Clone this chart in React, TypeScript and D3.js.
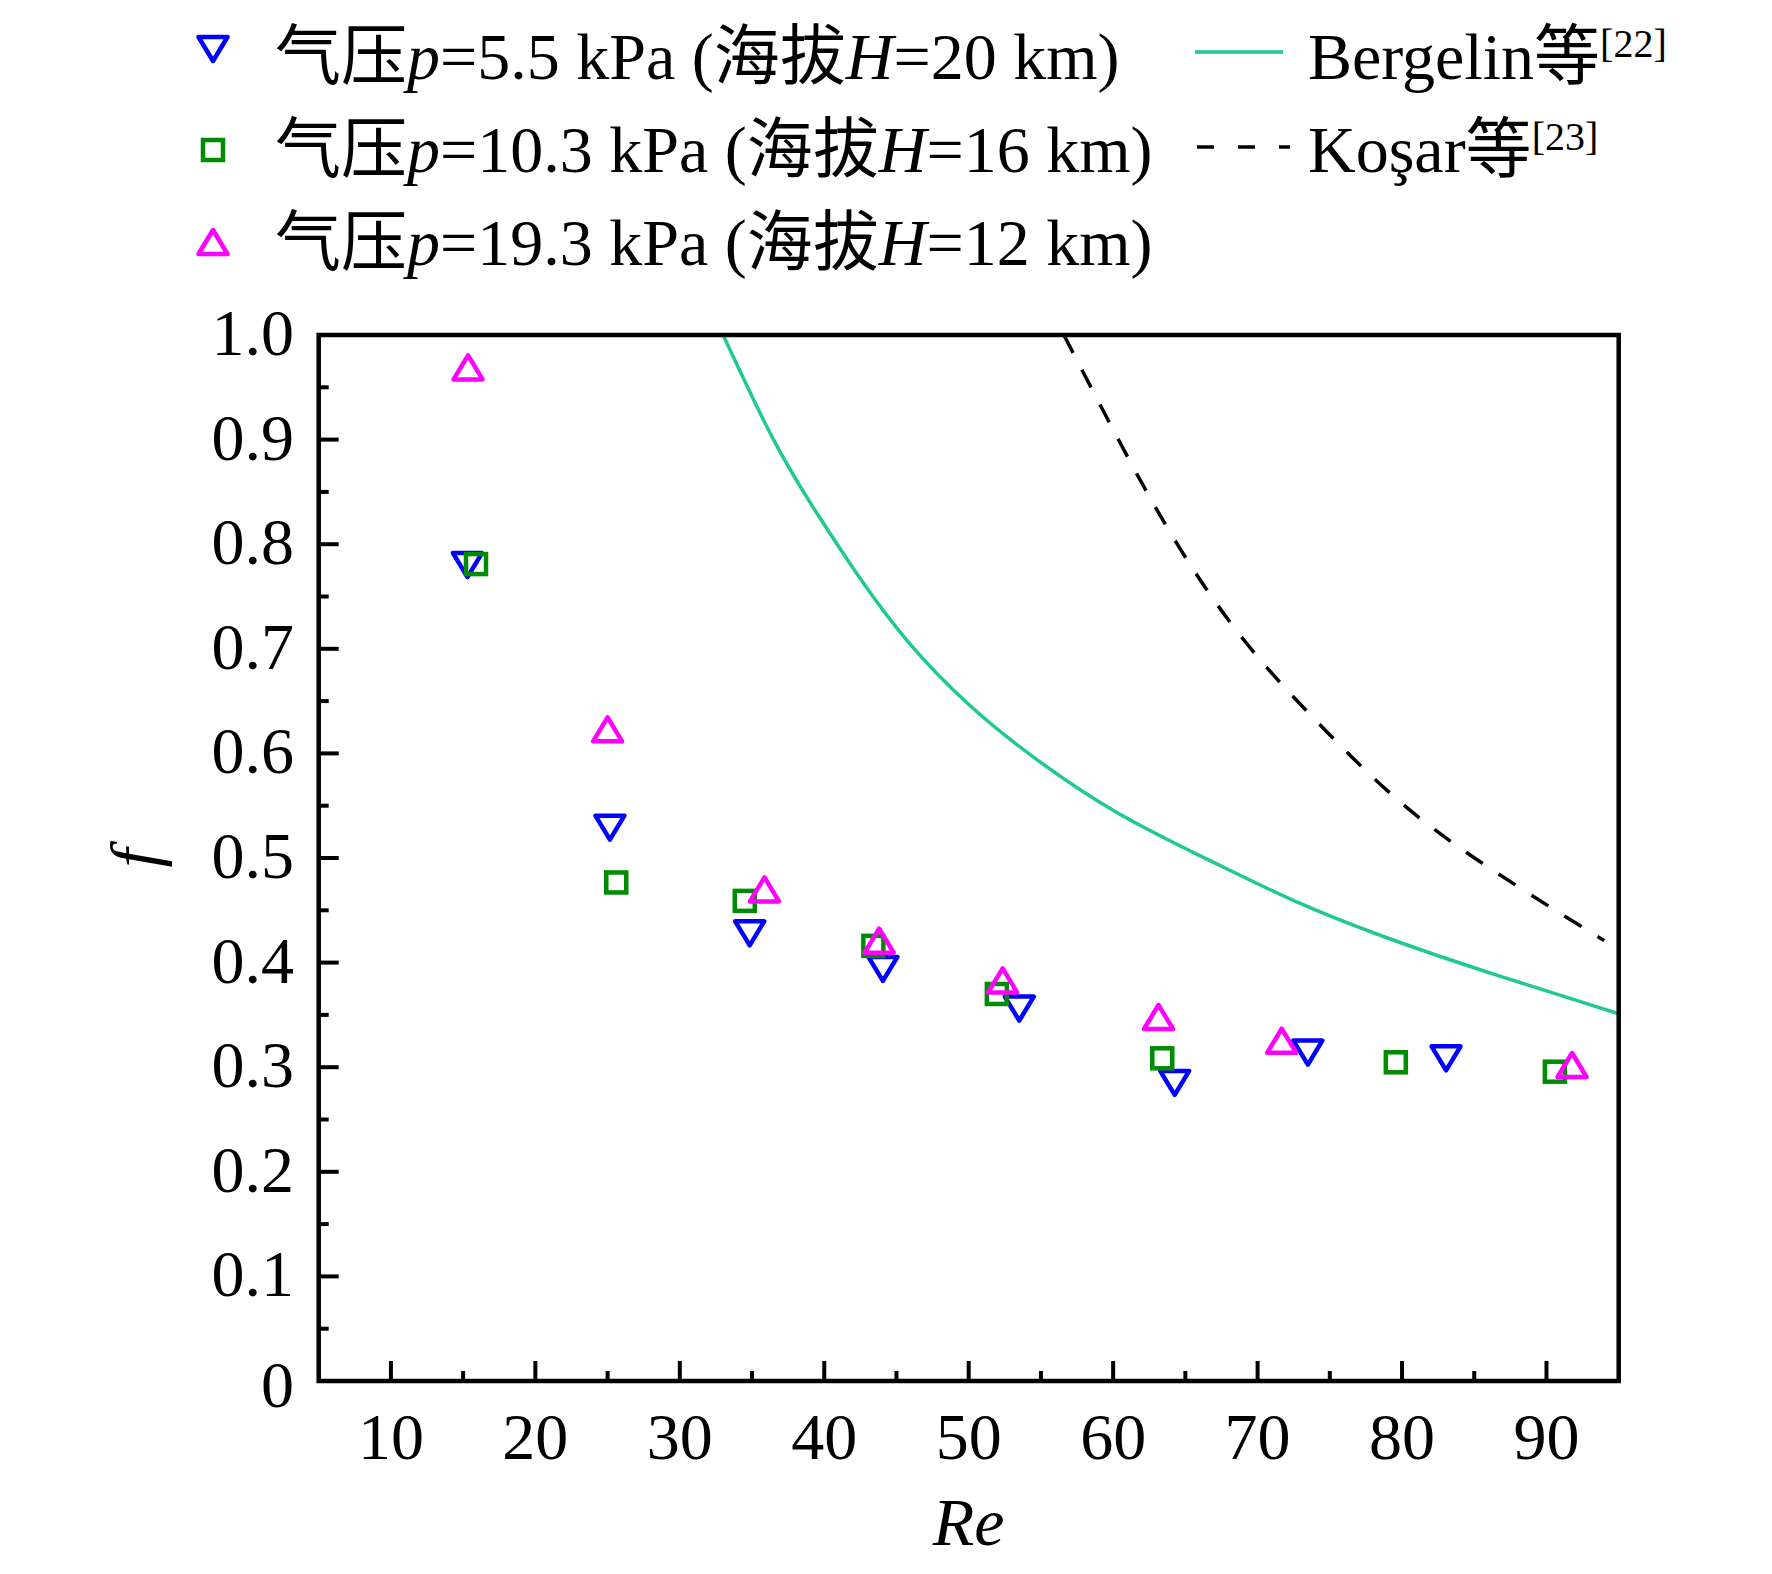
import * as d3 from 'd3'

const re20 = [15.3, 25.16, 34.84, 44.06, 53.5, 64.26, 73.48, 83.05]
const f20 = [0.78, 0.529, 0.428, 0.394, 0.356, 0.285, 0.314, 0.3085]

const re16 = [15.89, 25.6, 34.5, 43.4, 51.95, 63.4, 79.57, 90.58]
const f16 = [0.781, 0.4766, 0.459, 0.416, 0.37, 0.3085, 0.3047, 0.2957]

const re12 = [15.34, 25.0, 35.86, 43.8, 52.35, 63.14, 71.67, 91.77]
const f12 = [0.969, 0.623, 0.47, 0.421, 0.383, 0.348, 0.3253, 0.3021]

// correlation curves
const bergelinRe = [33.0, 36.56, 39.66, 42.55, 45.85, 49.99, 54.53, 60.32, 66.92, 72.71, 78.9, 86.34, 95]
const bergelinF = [1.0, 0.898, 0.826, 0.766, 0.706, 0.647, 0.596, 0.543, 0.496, 0.458, 0.424, 0.389, 0.351]

const kosarRe = [56.59, 60.52, 64.44, 69.19, 74.77, 80.97, 87.99, 94.0]
const kosarF = [1.0, 0.896, 0.8, 0.706, 0.621, 0.541, 0.473, 0.421]

const xTicks = [10, 20, 30, 40, 50, 60, 70, 80, 90]
const yTicks = [0, 0.1, 0.2, 0.3, 0.4, 0.5, 0.6, 0.7, 0.8, 0.9, 1.0]

type Shape = 'down' | 'square' | 'up'

const seriesList: { key: string; re: number[]; f: number[]; color: string; shape: Shape; p: string; h: string }[] = [
  { key: 's20', re: re20, f: f20, color: '#0000ff', shape: 'down', p: '5.5', h: '20' },
  { key: 's16', re: re16, f: f16, color: '#008c00', shape: 'square', p: '10.3', h: '16' },
  { key: 's12', re: re12, f: f12, color: '#ff00ff', shape: 'up', p: '19.3', h: '12' },
]

const FONT = "'Times New Roman', 'Liberation Serif', 'Noto Sans CJK SC', serif"
const TEAL = '#1fc98f'

function Marker({ shape, x, y, color }: { shape: Shape; x: number; y: number; color: string }) {
  const common = { fill: 'none', stroke: color, strokeWidth: 4.5, strokeLinejoin: 'round' as const }
  if (shape === 'square') {
    return <rect x={x - 10} y={y - 10} width={20} height={20} {...common} strokeLinejoin="miter" />
  }
  const d =
    shape === 'up'
      ? `M${x},${y - 12}L${x + 14.5},${y + 12}L${x - 14.5},${y + 12}Z`
      : `M${x},${y + 12}L${x + 14.5},${y - 12}L${x - 14.5},${y - 12}Z`
  return <path d={d} {...common} />
}

export default function App() {
  const width = 1772
  const height = 1574
  const left = 318.7
  const right = 1618.7
  const top = 335
  const bottom = 1381

  const x = d3.scaleLinear().domain([5, 95]).range([left, right])
  const y = d3.scaleLinear().domain([0, 1]).range([bottom, top])

  const xMinor = d3.range(15, 90, 10)
  const yMinor = d3.range(0.05, 1, 0.1)

  const line = d3
    .line<[number, number]>()
    .x((d) => x(d[0]))
    .y((d) => y(d[1]))
    .curve(d3.curveNatural)

  const bergelin = line(bergelinRe.map((r, i) => [r, bergelinF[i]])) ?? ''
  const kosar = line(kosarRe.map((r, i) => [r, kosarF[i]])) ?? ''

  const rowBase = [79, 172, 265]
  const markerY = [49, 150, 242]

  return (
    <div style={{ position: 'absolute', left: 0, top: 0, background: '#fff' }}>
      <svg width={width} height={height} viewBox={`0 0 ${width} ${height}`} fontFamily={FONT}>
        <rect width={width} height={height} fill="#fff" />
        <defs>
          <clipPath id="plotClip">
            <rect x={left} y={top} width={right - left} height={bottom - top} />
          </clipPath>
        </defs>

        {/* legend */}
        {seriesList.map((s, i) => (
          <g key={s.key}>
            <Marker shape={s.shape} x={213} y={markerY[i]} color={s.color} />
            <text x={275} y={rowBase[i]} fontSize={66} fill="#000">
              气压<tspan fontStyle="italic">p</tspan>={s.p} kPa (海拔<tspan fontStyle="italic">H</tspan>={s.h} km)
            </text>
          </g>
        ))}
        <line x1={1195} x2={1283} y1={52} y2={52} stroke={TEAL} strokeWidth={3.5} />
        <text x={1308} y={rowBase[0]} fontSize={66} fill="#000">
          Bergelin等<tspan fontSize={40} dy={-22}>[22]</tspan>
        </text>
        <line x1={1197} x2={1290} y1={147} y2={147} stroke="#000" strokeWidth={3.5} strokeDasharray="17 24" />
        <text x={1308} y={rowBase[1]} fontSize={66} fill="#000">
          Koşar等<tspan fontSize={40} dy={-22}>[23]</tspan>
        </text>

        {/* curves */}
        <g clipPath="url(#plotClip)">
          <path d={bergelin} fill="none" stroke={TEAL} strokeWidth={3.5} />
          <path d={kosar} fill="none" stroke="#000" strokeWidth={3.5} strokeDasharray="20 19" />
        </g>

        {/* points */}
        {seriesList.map((s) => (
          <g key={s.key}>
            {s.re.map((r, i) => (
              <Marker key={i} shape={s.shape} x={x(r)} y={y(s.f[i])} color={s.color} />
            ))}
          </g>
        ))}

        {/* ticks */}
        {xTicks.map((t) => (
          <g key={`x${t}`}>
            <line x1={x(t)} x2={x(t)} y1={bottom} y2={bottom - 20} stroke="#000" strokeWidth={4} />
            <text x={x(t)} y={bottom + 78} fontSize={66} textAnchor="middle" fill="#000">
              {t}
            </text>
          </g>
        ))}
        {xMinor.map((t) => (
          <line key={`xm${t}`} x1={x(t)} x2={x(t)} y1={bottom} y2={bottom - 10} stroke="#000" strokeWidth={4} />
        ))}
        {yTicks.map((t) => (
          <g key={`y${t}`}>
            <line x1={left} x2={left + 20} y1={y(t)} y2={y(t)} stroke="#000" strokeWidth={4} />
            <text x={294} y={y(t) + (t === 0 ? 26 : 20)} fontSize={66} textAnchor="end" fill="#000">
              {t === 0 ? '0' : t.toFixed(1)}
            </text>
          </g>
        ))}
        {yMinor.map((t) => (
          <line key={`ym${t}`} x1={left} x2={left + 10} y1={y(t)} y2={y(t)} stroke="#000" strokeWidth={4} />
        ))}

        {/* frame */}
        <rect x={left} y={top} width={right - left} height={bottom - top} fill="none" stroke="#000" strokeWidth={4.5} />

        {/* axis titles */}
        <text x={(left + right) / 2} y={1545} fontSize={68} fontStyle="italic" textAnchor="middle" fill="#000">
          Re
        </text>
        <text
          transform={`translate(158,${(top + bottom) / 2}) rotate(-90)`}
          fontSize={68}
          fontStyle="italic"
          textAnchor="middle"
          fill="#000"
        >
          f
        </text>
      </svg>
    </div>
  )
}
